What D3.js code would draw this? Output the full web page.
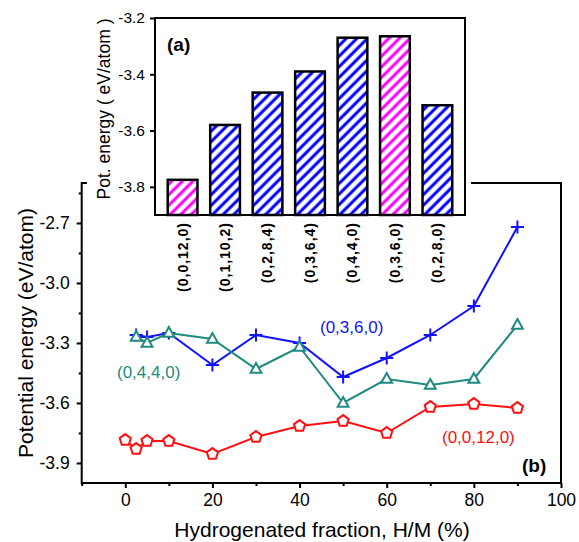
<!DOCTYPE html>
<html>
<head>
<meta charset="utf-8">
<script src="https://cdn.jsdelivr.net/npm/d3@7"></script>
<style>
  body { margin: 0; background: #fff; }
  svg { font-family: "Liberation Sans", Arial, sans-serif; }
</style>
</head>
<body>
<div id="chart"></div>
<script>
// main panel (b) data
var hmBlue = [2.5, 5, 10, 20, 30, 40, 50, 60, 70, 80, 90];
var eBlue = [-3.26, -3.27, -3.25, -3.41, -3.26, -3.30, -3.47, -3.375, -3.26, -3.115, -2.72];
var hmTeal = [2.5, 5, 10, 20, 30, 40, 50, 60, 70, 80, 90];
var eTeal = [-3.27, -3.30, -3.25, -3.28, -3.43, -3.32, -3.60, -3.48, -3.51, -3.48, -3.21];
var hmRed = [0, 2.5, 5, 10, 20, 30, 40, 50, 60, 70, 80, 90];
var eRed = [-3.785, -3.83, -3.79, -3.79, -3.855, -3.77, -3.715, -3.69, -3.75, -3.62, -3.605, -3.625];
var xTicks = [0, 20, 40, 60, 80, 100];
var yTicks = [-3.9, -3.6, -3.3, -3.0, -2.7];

// inset panel (a) data
var configs = ["(0,0,12,0)", "(0,1,10,2)", "(0,2,8,4)", "(0,3,6,4)", "(0,4,4,0)", "(0,3,6,0)", "(0,2,8,0)"];
var potEnergy = [-3.775, -3.58, -3.465, -3.39, -3.27, -3.265, -3.51];
var highlighted = ["(0,0,12,0)", "(0,3,6,0)"];
var insetTicks = [-3.8, -3.6, -3.4, -3.2];

var W = 579, H = 542;
var svg = d3.select("#chart").append("svg")
    .attr("width", W)
    .attr("height", H);

var defs = svg.append("defs");
function hatch(id, color) {
  var p = defs.append("pattern")
      .attr("id", id)
      .attr("patternUnits", "userSpaceOnUse")
      .attr("width", 7.5)
      .attr("height", 7.5)
      .attr("patternTransform", "rotate(45)");
  p.append("rect").attr("width", 7.5).attr("height", 7.5).attr("fill", "#fff");
  p.append("line")
      .attr("x1", 2).attr("x2", 2)
      .attr("y1", 0).attr("y2", 7.5)
      .attr("stroke", color)
      .attr("stroke-width", 3);
}
hatch("hatchBlue", "#0000ff");
hatch("hatchPink", "#ff00ff");

// ---------- main panel ----------
var x = d3.scaleLinear().domain([-10, 100]).range([81.7, 561]);
var y = d3.scaleLinear().domain([-4.0, -2.5]).range([483, 183]);

var main = svg.append("g");

// frame
main.append("rect")
    .attr("x", x(-10)).attr("y", y(-2.5))
    .attr("width", x(100) - x(-10)).attr("height", y(-4.0) - y(-2.5))
    .attr("fill", "none").attr("stroke", "#000").attr("stroke-width", 2);

main.append("g")
    .attr("transform", "translate(0," + y(-4.0) + ")")
    .call(d3.axisBottom(x).tickValues(xTicks).tickSize(5).tickPadding(6).tickFormat(d3.format("d")));
main.append("g")
    .attr("transform", "translate(0," + y(-4.0) + ")")
    .call(d3.axisBottom(x).tickValues([-10, 10, 30, 50, 70, 90]).tickSize(3).tickFormat(""));

main.append("g")
    .attr("transform", "translate(" + x(-10) + ",0)")
    .call(d3.axisLeft(y).tickValues(yTicks).tickSize(5).tickPadding(7).tickFormat(d3.format(".1f")));
main.append("g")
    .attr("transform", "translate(" + x(-10) + ",0)")
    .call(d3.axisLeft(y).tickValues([-3.75, -3.45, -3.15, -2.85, -2.55]).tickSize(3).tickFormat(""));

main.selectAll(".domain").remove();
main.selectAll(".tick line").attr("stroke", "#000").attr("stroke-width", 2);
main.selectAll(".tick text").attr("font-size", 17.5).attr("fill", "#000")
    .attr("font-family", "Liberation Sans, Arial, sans-serif")
    .text(function () { return this.textContent.replace("\u2212", "-"); });

// axis titles
main.append("text")
    .attr("x", 322).attr("y", 537)
    .attr("text-anchor", "middle")
    .attr("font-size", 21)
    .text("Hydrogenated fraction, H/M (%)");
main.append("text")
    .attr("transform", "translate(33,333)rotate(-90)")
    .attr("text-anchor", "middle")
    .attr("font-size", 21)
    .text("Potential energy (eV/atom)");

var line = d3.line()
    .x(function (d) { return x(d[0]); })
    .y(function (d) { return y(d[1]); });

// marker shapes
var plus = {
  draw: function (ctx, size) {
    var r = Math.sqrt(size) / 2;
    ctx.moveTo(-r, 0); ctx.lineTo(r, 0);
    ctx.moveTo(0, -r); ctx.lineTo(0, r);
  }
};
var pentagon = {
  draw: function (ctx, size) {
    var r = Math.sqrt(size) / 2;
    for (var i = 0; i < 5; i++) {
      var a = -Math.PI / 2 + i * 2 * Math.PI / 5;
      if (i === 0) ctx.moveTo(r * Math.cos(a), r * Math.sin(a));
      else ctx.lineTo(r * Math.cos(a), r * Math.sin(a));
    }
    ctx.closePath();
  }
};
var triangle = {
  draw: function (ctx, size) {
    var r = Math.sqrt(size) / 2;
    ctx.moveTo(0, -r * 1.05);
    ctx.lineTo(r * 0.95, r * 0.65);
    ctx.lineTo(-r * 0.95, r * 0.65);
    ctx.closePath();
  }
};

function series(xs, ys, color, shape, size, fill) {
  var pts = d3.zip(xs, ys);
  var g = main.append("g");
  g.append("path")
      .datum(pts)
      .attr("d", line)
      .attr("fill", "none")
      .attr("stroke", color)
      .attr("stroke-width", 2);
  g.selectAll("path.mk")
    .data(pts)
    .enter()
    .append("path")
      .attr("class", "mk")
      .attr("transform", function (d) { return "translate(" + x(d[0]) + "," + y(d[1]) + ")"; })
      .attr("d", d3.symbol().type(shape).size(size))
      .attr("fill", fill)
      .attr("stroke", color)
      .attr("stroke-width", 2);
}

series(hmBlue, eBlue, "#1212ff", plus, 170, "none");
series(hmTeal, eTeal, "#1f8a80", triangle, 130, "#fff");
series(hmRed, eRed, "#ff1010", pentagon, 140, "#fff");

// series labels
main.append("text").attr("x", 320).attr("y", 333).attr("font-size", 17).attr("fill", "#1212ff").text("(0,3,6,0)");
main.append("text").attr("x", 117).attr("y", 378).attr("font-size", 17).attr("fill", "#1f8a80").text("(0,4,4,0)");
main.append("text").attr("x", 442).attr("y", 443).attr("font-size", 17).attr("fill", "#ff1010").text("(0,0,12,0)");
main.append("text").attr("x", 522).attr("y", 472).attr("font-size", 19).attr("font-weight", "bold").text("(b)");

// ---------- inset panel ----------
var inset = svg.append("g");
inset.append("rect")
    .attr("x", 87).attr("y", 0)
    .attr("width", 384).attr("height", 217)
    .attr("fill", "#fff");

var xi = d3.scaleBand().domain(configs).range([155, 465]).padding(0.3);
var yi = d3.scaleLinear().domain([-3.9, -3.2]).range([215, 18]);

inset.append("rect")
    .attr("x", 155).attr("y", yi(-3.2))
    .attr("width", 310).attr("height", yi(-3.9) - yi(-3.2))
    .attr("fill", "#fff").attr("stroke", "#000").attr("stroke-width", 2);

inset.selectAll("rect.bar")
  .data(configs)
  .enter()
  .append("rect")
    .attr("class", "bar")
    .attr("x", function (d) { return xi(d); })
    .attr("y", function (d, i) { return yi(potEnergy[i]); })
    .attr("width", xi.bandwidth())
    .attr("height", function (d, i) { return yi(-3.9) - yi(potEnergy[i]); })
    .attr("fill", function (d) { return highlighted.indexOf(d) >= 0 ? "url(#hatchPink)" : "url(#hatchBlue)"; })
    .attr("stroke", "#000")
    .attr("stroke-width", 2.5);

var yiAxis = inset.append("g")
    .attr("transform", "translate(155,0)")
    .call(d3.axisLeft(yi).tickValues(insetTicks).tickSize(5).tickPadding(5).tickFormat(d3.format(".1f")));
yiAxis.select(".domain").remove();
yiAxis.selectAll(".tick line").attr("stroke", "#000").attr("stroke-width", 2);
yiAxis.selectAll(".tick text").attr("font-size", 15.5).attr("fill", "#000")
    .attr("font-family", "Liberation Sans, Arial, sans-serif")
    .text(function () { return this.textContent.replace("\u2212", "-"); });

var xiAxis = inset.append("g")
    .attr("transform", "translate(0,215)")
    .call(d3.axisBottom(xi).tickSize(0).tickPadding(0));
xiAxis.select(".domain").remove();
xiAxis.selectAll(".tick text")
    .attr("transform", "translate(0,7)rotate(-90)")
    .attr("text-anchor", "end")
    .attr("dy", "0.35em")
    .attr("x", 0).attr("y", 0)
    .attr("font-size", 14)
    .attr("font-weight", "bold")
    .attr("letter-spacing", 1)
    .attr("fill", "#000")
    .attr("font-family", "Liberation Sans, Arial, sans-serif");

inset.append("text")
    .attr("transform", "translate(110,109)rotate(-90)")
    .attr("text-anchor", "middle")
    .attr("font-size", 17.5)
    .text("Pot. energy ( eV/atom )");
inset.append("text")
    .attr("x", 167).attr("y", 51)
    .attr("font-size", 19).attr("font-weight", "bold")
    .text("(a)");
</script>
</body>
</html>
